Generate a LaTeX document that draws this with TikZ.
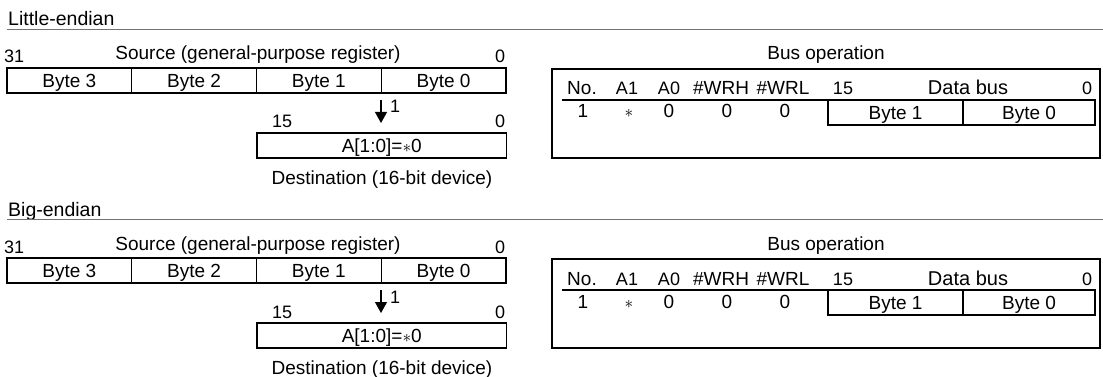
\documentclass[tikz,border=0pt]{standalone}
\usepackage{fontspec}
\setmainfont{Liberation Sans}
\usetikzlibrary{arrows.meta}
\begin{document}
\begin{tikzpicture}[x=1pt,y=-1pt,
  big/.style={font=\fontsize{19}{21}\selectfont, inner sep=0pt},
  small/.style={font=\fontsize{18}{20}\selectfont, inner sep=0pt},
  hdr/.style={font=\fontsize{19}{21}\selectfont, inner sep=0pt},
  cell/.style={draw, line width=1.2pt, minimum height=25pt, inner sep=0pt, text height=13.5pt, text depth=0pt, font=\fontsize{19}{21}\selectfont},
  sep/.style={draw=black!55, line width=1.2pt},
  arr/.style={line width=1.2pt, -{Triangle[length=11pt,width=12pt]}}]
\useasboundingbox (0,0) rectangle (1103,377);
\foreach \ttl/\oy in {Little-endian/0, Big-endian/190}{
\begin{scope}[yshift=-\oy pt]
  \node[big, font=\fontsize{19.5}{21}\selectfont, anchor=base west] (title\oy) at (8,26) {\ttl};
  \draw[sep] (7,29.5) -- (1103,29.5);
  % source
  \node[small, anchor=base west] (s31\oy) at (4,63) {31};
  \node[big, anchor=base] (srct\oy) at (258,60) {Source (general-purpose register)};
  \node[small, anchor=base] (s0\oy) at (500,63) {0};
  \node[cell, minimum width=124.75pt] (b3\oy) at (69.375,80.5) {Byte 3};
  \node[cell, minimum width=124.75pt] (b2\oy) at (194.125,80.5) {Byte 2};
  \node[cell, minimum width=124.75pt] (b1\oy) at (318.875,80.5) {Byte 1};
  \node[cell, minimum width=124.75pt] (b0\oy) at (443.625,80.5) {Byte 0};
  % arrow
  \coordinate (as\oy) at (381,100);
  \coordinate (ae\oy) at (381,123);
  \draw[arr] (as\oy) -- (ae\oy);
  \node[small, anchor=base west] (one\oy) at (390,113) {1};
  % destination
  \node[small, anchor=base west] (d15\oy) at (272,128) {15};
  \node[small, anchor=base] (d0\oy) at (500,128) {0};
  \node[cell, minimum width=249.5pt] (dst\oy) at (381.75,145.5) {A[1:0]=$\ast$0};
  \node[big, anchor=base] (dstt\oy) at (382,184) {Destination (16-bit device)};
  % bus operation
  \node[big, anchor=base] (bust\oy) at (826,60) {Bus operation};
  \node[draw, line width=1.2pt, minimum width=548pt, minimum height=89pt, inner sep=0pt] (busbox\oy) at (826,113.5) {};
  \draw[line width=2pt] (562,100) -- (1095,100);
  \node[hdr, anchor=base] (hno\oy) at (582,95) {No.};
  \node[small, anchor=base] (ha1\oy) at (627,95) {A1};
  \node[small, anchor=base] (ha0\oy) at (669,95) {A0};
  \node[hdr, anchor=base] (hwrh\oy) at (721,95) {\#WRH};
  \node[hdr, anchor=base] (hwrl\oy) at (783,95) {\#WRL};
  \node[small, anchor=base] (h15\oy) at (843,95) {15};
  \node[big, font=\fontsize{20}{22}\selectfont, anchor=base] (hdb\oy) at (968,95) {Data bus};
  \node[small, anchor=base] (h0\oy) at (1087,95) {0};
  \node[hdr, anchor=base] (rno\oy) at (583,118) {1};
  \node[hdr, anchor=base] (ra1\oy) at (629,118) {$\ast$};
  \node[hdr, anchor=base] (ra0\oy) at (669,118) {0};
  \node[hdr, anchor=base] (rwrh\oy) at (727,118) {0};
  \node[hdr, anchor=base] (rwrl\oy) at (785,118) {0};
  \node[cell, minimum width=135pt] (db1\oy) at (895.5,112.5) {Byte 1};
  \node[cell, minimum width=132pt] (db0\oy) at (1029,112.5) {Byte 0};
\end{scope}
}
\end{tikzpicture}
\end{document}
